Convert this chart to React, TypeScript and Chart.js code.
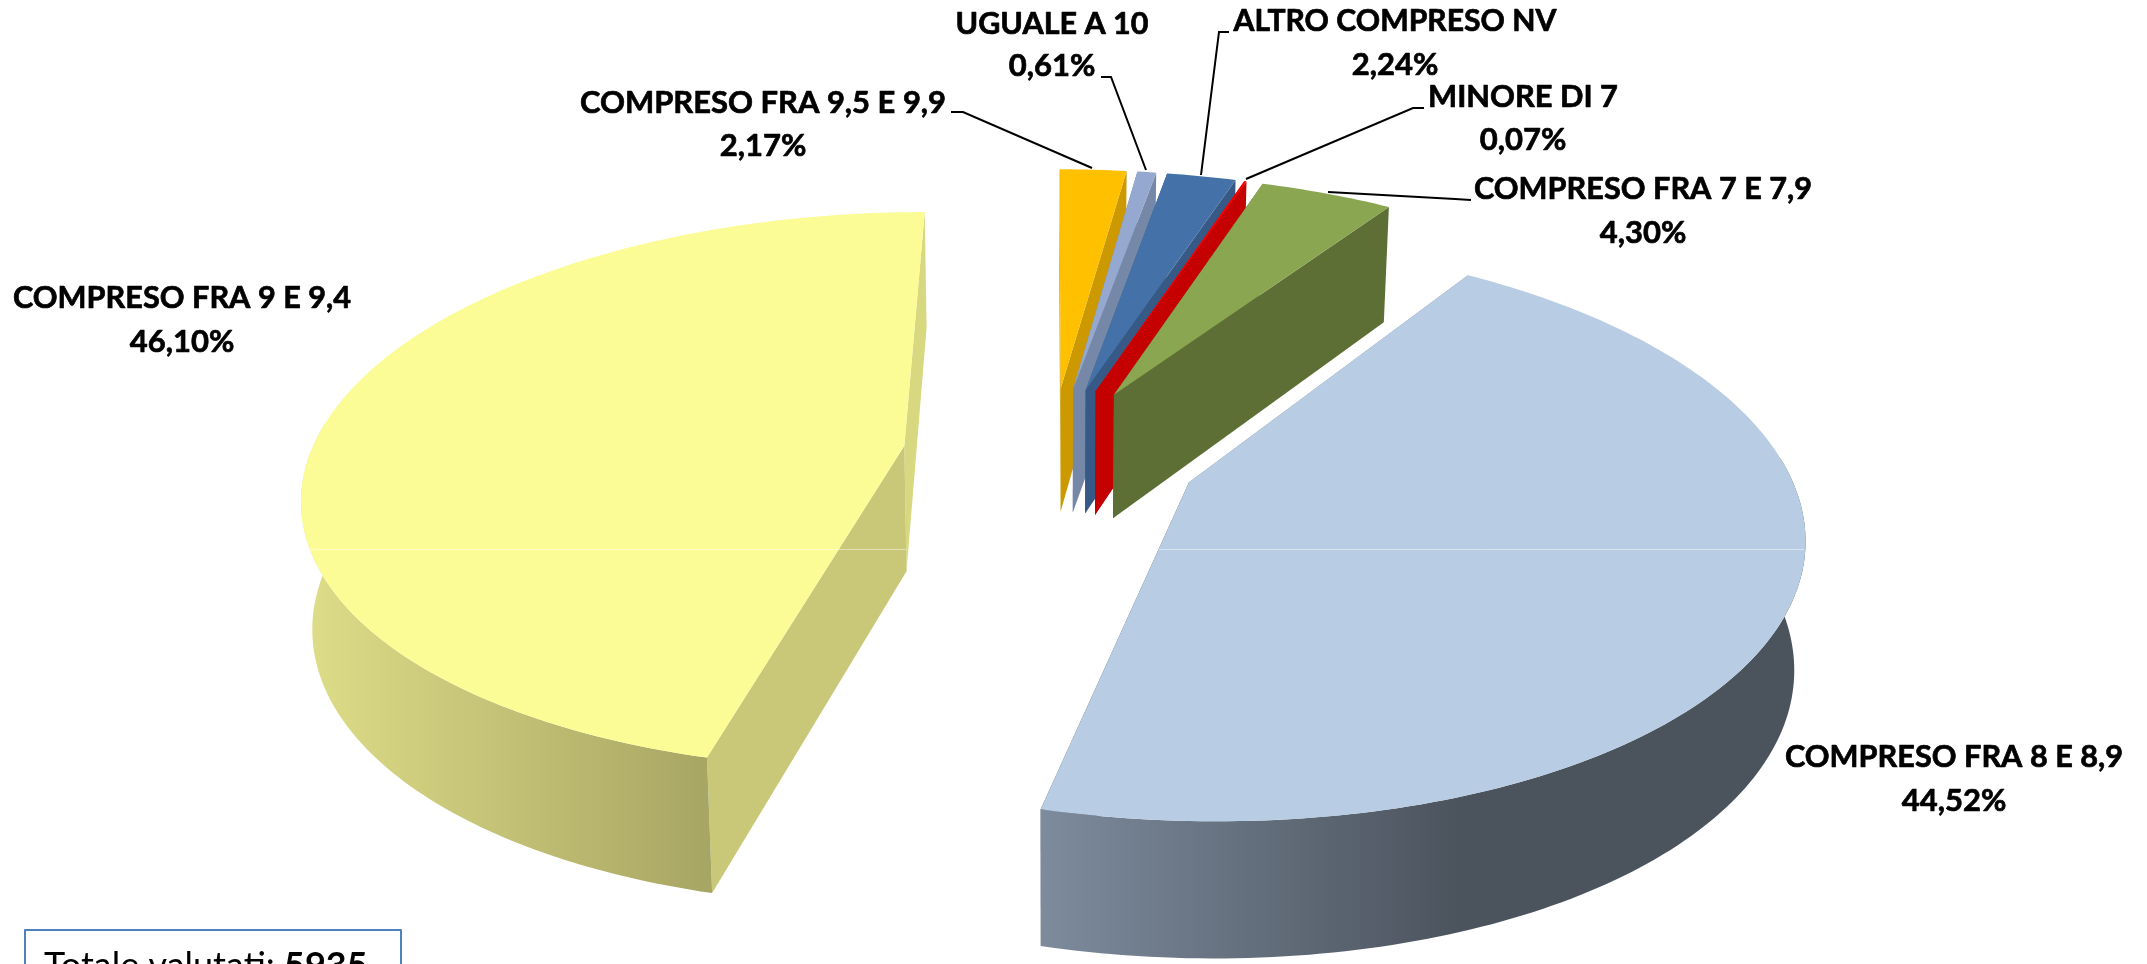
import React, { useEffect, useRef } from "react";
import { Chart, registerables } from "chart.js";

Chart.register(...registerables);

const categories = [
  "COMPRESO FRA 9,5 E 9,9",
  "UGUALE A 10",
  "ALTRO COMPRESO NV",
  "MINORE DI 7",
  "COMPRESO FRA 7 E 7,9",
  "COMPRESO FRA 8 E 8,9",
  "COMPRESO FRA 9 E 9,4",
];
const percentages = [2.17, 0.61, 2.24, 0.07, 4.3, 44.52, 46.1];
const totalLabel = "Totale valutati: ";
const totalValue = "5935";

const topColors = ["#FFC000", "#95A9D0", "#4472A8", "#FF0000", "#8AA650", "#B8CCE4", "#FCFC97"];
const cutColors = ["#CC9A00", "#7688A8", "#365A85", "#C40000", "#5E6F35", "#4B535D", "#C8C878"];
const backColors = ["#CC9A00", "#7688A8", "#365A85", "#C40000", "#5E6F35", "#7D8B9D", "#D8D880"];
const rimFrom = ["#CC9A00", "#7688A8", "#365A85", "#C40000", "#5E6F35", "#7D8B9D", "#DEDD88"];
const rimTo = ["#CC9A00", "#7688A8", "#365A85", "#C40000", "#5E6F35", "#4B535D", "#A7A563"];

// label layout: centre x, y of first and second line, width of first line
const labelLayout = [
  { x: 763, y1: 103, y2: 146, w: 366 },
  { x: 1052, y1: 24, y2: 66, w: 193 },
  { x: 1395, y1: 21, y2: 65, w: 323 },
  { x: 1523, y1: 97, y2: 140, w: 190 },
  { x: 1643, y1: 189, y2: 233, w: 338 },
  { x: 1954, y1: 757, y2: 801, w: 338 },
  { x: 182, y1: 298, y2: 342, w: 338 },
];
const leaders: number[][][] = [
  [[951, 112], [963, 112], [1092, 168]],
  [[1101, 77], [1111, 77], [1146, 170]],
  [[1229, 32], [1219, 32], [1201, 175]],
  [[1424, 108], [1413, 108], [1246, 179]],
  [[1328, 192], [1455, 199], [1471, 200]],
];

const CX = 1051, CY = 454, A = 594, B = 274, K = 0.162, EXPLODE = 0.25, DEPTH = 126;

function project(wx: number, wy: number, bottom: boolean): [number, number] {
  const w = 1 - K * wy;
  let x = CX + (A * wx) / w;
  let y = CY + (B * wy) / w;
  if (bottom) {
    x = CX + (x - CX) * 0.985;
    y += DEPTH * (1 + 0.08 * wy);
  }
  return [x, y];
}

const fmt = (v: number) => v.toFixed(2).replace(".", ",") + "%";

const pie3d = {
  id: "pie3d",
  beforeDatasetsDraw(chart: any) {
    const ctx: CanvasRenderingContext2D = chart.ctx;
    const arcs = chart.getDatasetMeta(0).data;
    const poly = (pts: [number, number][], fill: any) => {
      ctx.beginPath();
      pts.forEach((p, i) => (i ? ctx.lineTo(p[0], p[1]) : ctx.moveTo(p[0], p[1])));
      ctx.closePath();
      ctx.fillStyle = fill;
      ctx.fill();
    };
    arcs.forEach((arc: any, i: number) => {
      const t1 = arc.startAngle + Math.PI / 2;
      const t2 = arc.endAngle + Math.PI / 2;
      const tm = (t1 + t2) / 2;
      const ox = EXPLODE * Math.sin(tm);
      const oy = -EXPLODE * Math.cos(tm);
      const rim = (t: number, bottom: boolean) =>
        project(ox + Math.sin(t), oy - Math.cos(t), bottom);
      const apexT = project(ox, oy, false);
      const apexB = project(ox, oy, true);
      const face = (t: number, color: string) =>
        poly([apexT, rim(t, false), rim(t, true), apexB], color);
      // farther radial face first
      if (-Math.cos(t1) < -Math.cos(t2)) {
        face(t1, backColors[i]);
        face(t2, cutColors[i]);
      } else {
        face(t2, backColors[i]);
        face(t1, cutColors[i]);
      }
      // outer wall, only the part that looks towards the viewer
      const lo = Math.max(t1, (85 * Math.PI) / 180);
      const hi = Math.min(t2, (275 * Math.PI) / 180);
      if (hi > lo) {
        const up: [number, number][] = [];
        const down: [number, number][] = [];
        const n = Math.ceil(((hi - lo) * 180) / Math.PI);
        for (let s = 0; s <= n; s++) {
          const t = lo + ((hi - lo) * s) / n;
          up.push(rim(t, false));
          down.unshift(rim(t, true));
        }
        const xs = up.concat(down).map((p) => p[0]);
        const minX = Math.min(...xs);
        const maxX = Math.max(...xs);
        const g = ctx.createLinearGradient(minX, 0, i === 5 ? minX + (maxX - minX) * 0.55 : maxX, 0);
        g.addColorStop(0, rimFrom[i]);
        g.addColorStop(1, rimTo[i]);
        poly(up.concat(down), g);
      }
      // top face
      const pts: [number, number][] = [apexT];
      const n = Math.max(2, Math.ceil(((t2 - t1) * 180) / Math.PI));
      for (let s = 0; s <= n; s++) pts.push(rim(t1 + ((t2 - t1) * s) / n, false));
      poly(pts, topColors[i]);
    });

    // thin light seam across the two large slices
    ctx.strokeStyle = "rgba(255,255,255,0.45)";
    ctx.lineWidth = 1;
    ctx.beginPath();
    ctx.moveTo(301, 549.5);
    ctx.lineTo(906, 549.5);
    ctx.moveTo(1159, 549.5);
    ctx.lineTo(1804, 549.5);
    ctx.stroke();

    // leader lines
    ctx.strokeStyle = "#000";
    ctx.lineWidth = 2;
    leaders.forEach((l) => {
      ctx.beginPath();
      l.forEach((p, j) => (j ? ctx.lineTo(p[0], p[1]) : ctx.moveTo(p[0], p[1])));
      ctx.stroke();
    });

    // labels
    ctx.fillStyle = "#000";
    ctx.textAlign = "center";
    ctx.textBaseline = "middle";
    ctx.font = "bold 31px Lato";
    ctx.lineWidth = 0.7;
    ctx.lineJoin = "round";
    categories.forEach((c, i) => {
      const l = labelLayout[i];
      ctx.fillText(c, l.x, l.y1, l.w);
      ctx.strokeText(c, l.x, l.y1, l.w);
      ctx.fillText(fmt(percentages[i]), l.x, l.y2);
      ctx.strokeText(fmt(percentages[i]), l.x, l.y2);
    });

    // total box, cut by the bottom edge of the picture
    ctx.fillStyle = "#fff";
    ctx.fillRect(25, 930, 376, 60);
    ctx.strokeStyle = "#4F81BD";
    ctx.lineWidth = 2;
    ctx.strokeRect(25, 930, 376, 60);
    ctx.fillStyle = "#000";
    ctx.textAlign = "left";
    ctx.textBaseline = "alphabetic";
    ctx.font = "36px Lato";
    ctx.fillText(totalLabel, 44, 978);
    const w = ctx.measureText(totalLabel).width;
    ctx.font = "bold 36px Lato";
    ctx.fillText(totalValue, 44 + w, 978);
    return false;
  },
};

export default function App() {
  const ref = useRef<HTMLCanvasElement>(null);
  useEffect(() => {
    const chart = new Chart(ref.current as HTMLCanvasElement, {
      type: "pie",
      data: {
        labels: categories,
        datasets: [{ data: percentages, backgroundColor: topColors, borderWidth: 0 }],
      },
      options: {
        animation: false,
        responsive: false,
        devicePixelRatio: 1,
        rotation: 0,
        plugins: { legend: { display: false }, tooltip: { enabled: false } },
      },
      plugins: [pie3d],
    } as any);
    return () => chart.destroy();
  }, []);
  return (
    <div style={{ position: "fixed", left: 0, top: 0, width: 2147, height: 964, background: "#fff", overflow: "hidden" }}>
      <canvas ref={ref} width={2147} height={964} style={{ display: "block" }} />
    </div>
  );
}
